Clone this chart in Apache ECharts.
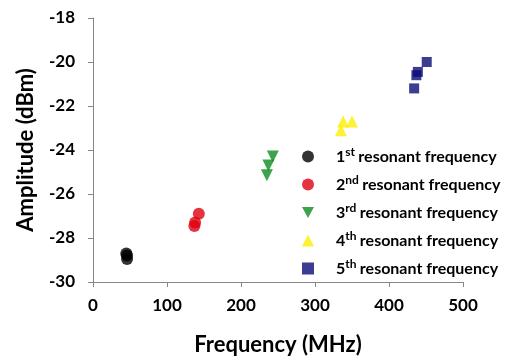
<!DOCTYPE html>
<html>
<head>
<meta charset="utf-8">
<script src="https://cdn.jsdelivr.net/npm/echarts@6/dist/echarts.min.js"></script>
<style>
  html, body { margin: 0; padding: 0; background: #fff; }
  #chart { width: 512px; height: 361px; }
</style>
</head>
<body>
<div id="chart"></div>
<script>
// frequency (MHz) / amplitude (dBm) per resonance
const first  = [[45, -28.7], [46, -28.8], [46, -28.95]]
const second = [[137, -27.45], [138, -27.3], [143, -26.9]]
const third  = [[243, -24.3], [237, -24.7], [235, -25.15]]
const fourth = [[338, -22.7], [350, -22.7], [335, -23.1]]
const fifth  = [[451, -20.0], [439, -20.45], [437, -20.6], [434, -21.2]]

const ordinals = ['1', '2', '3', '4', '5']
const suffixes = ['st', 'nd', 'rd', 'th', 'th']
const seriesNames = ordinals.map((n, i) => n + suffixes[i] + ' resonant frequency')

const FONT = 'Lato'

const chart = echarts.init(document.getElementById('chart'))

const makeSeries = (name, data, symbol, color, size) => ({
    name,
    type : 'scatter',
    data,
    symbol,
    symbolSize : size,
    itemStyle : { color },
})

chart.setOption({
    animation : false,
    grid : { left : 93, right : 49, top : 18, bottom : 77 },
    xAxis : {
        type : 'value',
        min : 0, max : 500, interval : 100,
        name : 'Frequency (MHz)',
        nameLocation : 'middle',
        nameGap : 52,
        nameTextStyle : { fontFamily : FONT, fontWeight : 'bold', fontSize : 22, color : '#000' },
        axisLine : { onZero : false, lineStyle : { color : '#868686' } },
        axisTick : { show : true, length : 5, lineStyle : { color : '#868686' } },
        axisLabel : { fontFamily : FONT, fontWeight : 'bold', fontSize : 17, color : '#000', margin : 15 },
        splitLine : { show : false },
    },
    yAxis : {
        type : 'value',
        min : -30, max : -18, interval : 2,
        name : 'Amplitude (dBm)',
        nameLocation : 'middle',
        nameGap : 56,
        nameTextStyle : { fontFamily : FONT, fontWeight : 'bold', fontSize : 22, color : '#000' },
        axisLine : { show : true, lineStyle : { color : '#868686' } },
        axisTick : { show : true, length : 5, lineStyle : { color : '#868686' } },
        axisLabel : { fontFamily : FONT, fontWeight : 'bold', fontSize : 17, color : '#000', margin : 18 },
        splitLine : { show : false },
    },
    legend : {
        orient : 'vertical',
        left : 297,
        top : 141,
        itemWidth : 12,
        itemHeight : 12,
        itemGap : 7,
        selectedMode : false,
        formatter : name => {
            const i = seriesNames.indexOf(name)
            return `{n|${ ordinals[i] }}{sup|${ suffixes[i] }} {t|resonant frequency}`
        },
        textStyle : {
            padding : [0, 0, 0, 17],
            lineHeight : 21,
            rich : {
                n : { fontFamily : FONT, fontWeight : 'bold', fontSize : 16, color : '#000' },
                sup : { fontFamily : FONT, fontWeight : 'bold', fontSize : 12, color : '#000', padding : [0, 0, 9, 0] },
                t : { fontFamily : FONT, fontWeight : 'bold', fontSize : 16, color : '#000' },
            }
        },
        data : seriesNames,
    },
    series : [
        makeSeries(seriesNames[0], first,  'circle', '#000000', 12),
        makeSeries(seriesNames[1], second, 'circle', '#e00010', 12),
        makeSeries(seriesNames[2], third,  'path://M0,0 L10,0 L5,9 Z', '#0d8c1f', 12),
        makeSeries(seriesNames[3], fourth, 'triangle', '#ffee00', 12),
        makeSeries(seriesNames[4], fifth,  'rect', '#0b0b78', 10),
    ],
})
</script>
</body>
</html>
